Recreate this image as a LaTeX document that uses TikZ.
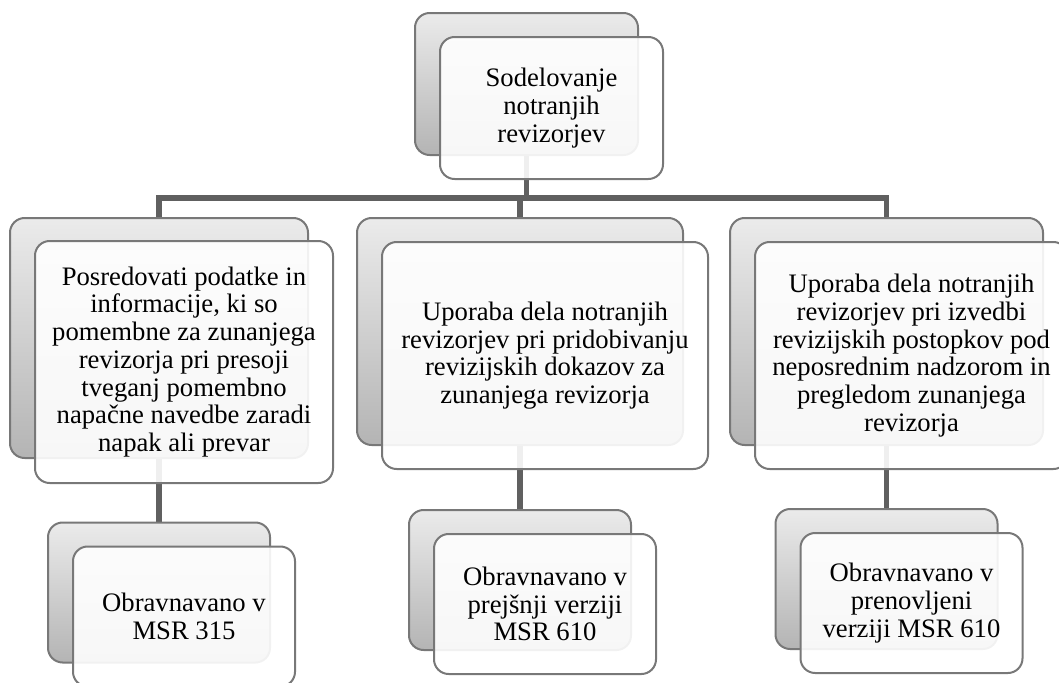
\documentclass[tikz,border=0pt]{standalone}
\usepackage{fontspec}
\setmainfont{Liberation Serif}
\usepackage{tikz}
\usetikzlibrary{backgrounds}

\definecolor{linkgray}{HTML}{606060}
\definecolor{boxline}{HTML}{787878}
\definecolor{backtop}{HTML}{EBEBEB}
\definecolor{backbot}{HTML}{B4B4B4}

\tikzset{
  backbox/.style={draw=boxline, line width=1.5pt, rounded corners=11pt,
    top color=backtop, bottom color=backbot, inner sep=0pt},
  frontbox/.style={draw=boxline, line width=1.5pt, rounded corners=11pt,
    fill=white, fill opacity=0.9, text opacity=1, inner sep=0pt,
    align=center, font=\fontsize{20}{20.8}\selectfont},
  boxsize/.style 2 args={minimum width=#1*0.75pt, minimum height=#2*0.75pt},
  front/.style={xshift=18.75pt, yshift=-18pt},
  link/.style={draw=linkgray, line width=4.2pt}
}

\begin{document}
\begin{tikzpicture}[x=0.75pt,y=-0.75pt]
  \clip (0,0) rectangle (1059,682);
  % top
  \node[backbox,boxsize={223}{142}] (sodelovanjeb) at (526.5,84) {};
  \node[frontbox,boxsize={223}{142}] (sodelovanje) at ([front]sodelovanjeb.center)
    {Sodelovanje\\notranjih\\revizorjev};
  % second row
  \node[backbox,boxsize={298}{240}] (podatkib) at (159,338) {};
  \node[frontbox,boxsize={298}{242}] (podatki) at ([front]podatkib.center)
    {Posredovati podatke in\\informacije, ki so\\pomembne za zunanjega\\revizorja pri presoji\\tveganj pomembno\\napačne navedbe zaradi\\napak ali prevar};
  \node[backbox,boxsize={326}{227}] (dokazib) at (520,331.5) {};
  \node[frontbox,boxsize={326}{227}] (dokazi) at ([front]dokazib.center)
    {Uporaba dela notranjih\\revizorjev pri pridobivanju\\revizijskih dokazov za\\zunanjega revizorja};
  \node[backbox,boxsize={313}{227}] (postopkib) at (886.5,331.5) {};
  \node[frontbox,boxsize={313}{227}] (postopki) at ([front]postopkib.center)
    {Uporaba dela notranjih\\revizorjev pri izvedbi\\revizijskih postopkov pod\\neposrednim nadzorom in\\pregledom zunanjega\\revizorja};
  % third row
  \node[backbox,boxsize={222}{140}] (msrib) at (159,592.5) {};
  \node[frontbox,boxsize={222}{140}] (msri) at ([front]msrib.center)
    {Obravnavano v\\MSR 315};
  \node[backbox,boxsize={222}{140}] (msriib) at (520,580) {};
  \node[frontbox,boxsize={222}{140}] (msrii) at ([front]msriib.center)
    {Obravnavano v\\prejšnji verziji\\MSR 610};
  \node[backbox,boxsize={222}{140}] (msriiib) at (886.5,579) {};
  \node[frontbox,boxsize={222}{140}] (msriii) at ([front]msriiib.center)
    {Obravnavano v\\prenovljeni\\verziji MSR 610};

  \begin{scope}[on background layer]
    \coordinate (bus) at (526.5,198);
    \draw[link] (sodelovanjeb.south) -- (bus);
    \draw[link] (podatkib.north) |- (bus) -| (postopkib.north);
    \draw[link] (bus -| dokazib.north) -- (dokazib.north);
    \foreach \a/\b in {podatkib/msrib, dokazib/msriib, postopkib/msriiib}
      \draw[link] (\a.south) -- (\b.north);
  \end{scope}
\end{tikzpicture}
\end{document}
